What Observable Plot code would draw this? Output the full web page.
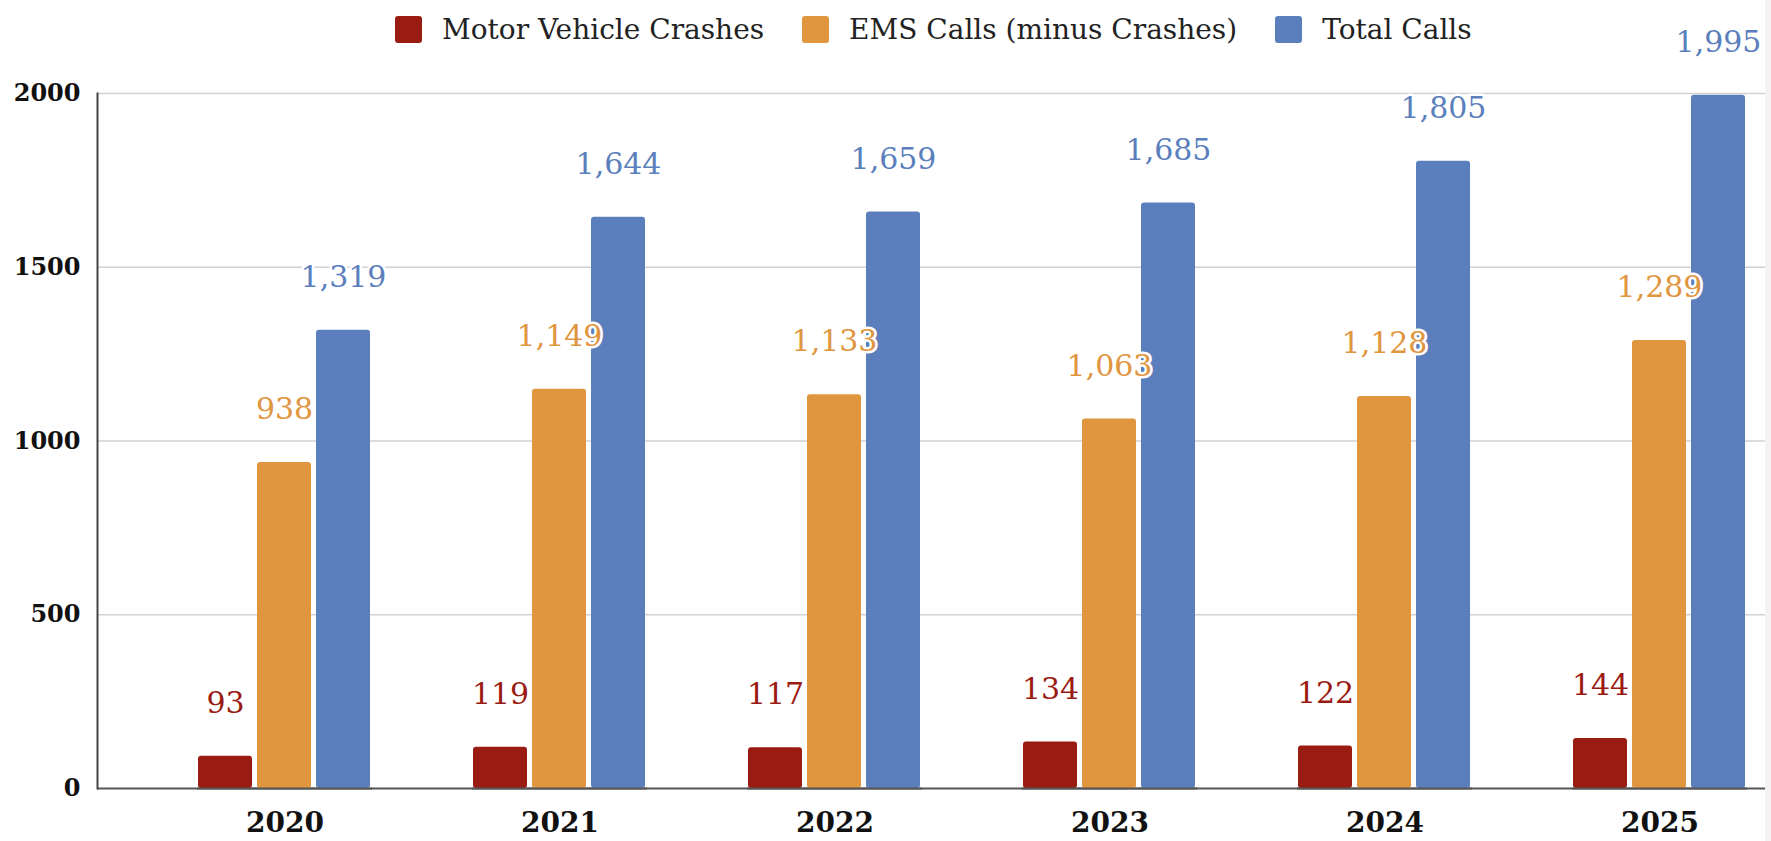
<!DOCTYPE html>
<html>
<head>
<meta charset="utf-8">
<script src="https://cdn.jsdelivr.net/npm/d3@7"></script>
<script src="https://cdn.jsdelivr.net/npm/@observablehq/plot@0.6"></script>
<style>
  html, body { margin: 0; padding: 0; background: #ffffff; overflow: hidden; }
  #wrap { position: relative; width: 1771px; height: 841px; font-family: "DejaVu Serif", serif; }
  #wrap svg { display: block; position: absolute; left: 0; top: 0; }
  #legend { position: absolute; left: 395px; top: 16px; display: flex; align-items: center; height: 27px; }
  .item { display: flex; align-items: center; margin-right: 38px; }
  .swatch { width: 27px; height: 27px; border-radius: 3px; margin-right: 20px; }
  .lab { font-size: 28px; color: #222; line-height: 27px; white-space: nowrap; }
  #strip { position: absolute; right: 0; top: 0; width: 6px; height: 841px; background: #f4f2f2; }
</style>
</head>
<body>
<div id="wrap">
  <div id="legend"></div>
  <div id="strip"></div>
</div>
<script>
const years = ["2020", "2021", "2022", "2023", "2024", "2025"];
const series = ["Motor Vehicle Crashes", "EMS Calls (minus Crashes)", "Total Calls"];
const crashes = [93, 119, 117, 134, 122, 144];
const emsMinusCrashes = [938, 1149, 1133, 1063, 1128, 1289];
const totalCalls = [1319, 1644, 1659, 1685, 1805, 1995];
const colors = ["#9a1b12", "#e0953f", "#5b7fbc"];
const yTicks = [0, 500, 1000, 1500, 2000];
const yGrid = [500, 1000, 1500, 2000];

const seriesValues = [crashes, emsMinusCrashes, totalCalls];
const data = [];
years.forEach((yr, i) => {
  series.forEach((s, j) => data.push({year: yr, series: s, value: seriesValues[j][i]}));
});

const fmt = d3.format(",");

const common = {
  width: 1771,
  height: 841,
  marginTop: 93,
  marginBottom: 53,
  marginLeft: 97,
  marginRight: 6,
  style: {fontFamily: "DejaVu Serif, serif", background: "transparent", overflow: "visible"},
  y: {domain: [0, 2000]}
};

// Background layer: grid, baseline, left axis line, y tick labels
const back = Plot.plot({
  ...common,
  marks: [
    Plot.ruleY(yGrid, {stroke: "#d2d2d2", strokeWidth: 1.5}),
    Plot.ruleY([0], {stroke: "#555555", strokeWidth: 2}),
    Plot.frame({anchor: "left", stroke: "#444444", strokeWidth: 2}),
    Plot.axisY({ticks: yTicks, tickSize: 0, tickPadding: 17, fontSize: 24, fontWeight: "bold", fill: "#111", label: null, tickFormat: d => String(d)})
  ]
});

// Foreground layer: grouped bars, value labels, year labels
const front = Plot.plot({
  ...common,
  fx: {domain: years, range: [195, 1748], paddingInner: 0.365, paddingOuter: 0, label: null},
  x: {domain: series, paddingInner: 0.083, paddingOuter: 0, axis: null},
  y: {domain: [0, 2000], axis: null},
  color: {domain: series, range: colors},
  marks: [
    Plot.barY(data, {fx: "year", x: "series", y: "value", fill: "series", rx: 3}),
    Plot.ruleY([0], {stroke: "#555555", strokeWidth: 2}),
    Plot.text(data, {
      fx: "year", x: "series", y: "value",
      text: d => fmt(d.value),
      fill: "series",
      dy: -53,
      lineAnchor: "middle",
      fontSize: 30,
      stroke: "white",
      strokeWidth: 5,
      paintOrder: "stroke"
    }),
    Plot.axisFx({anchor: "bottom", tickSize: 0, tickPadding: 24, fontSize: 28, fontWeight: "bold", fill: "#111", label: null})
  ]
});

const wrap = document.getElementById("wrap");
const legendEl = document.getElementById("legend");
wrap.insertBefore(back, legendEl);
wrap.insertBefore(front, legendEl);

series.forEach((s, j) => {
  const item = document.createElement("div");
  item.className = "item";
  const sw = document.createElement("div");
  sw.className = "swatch";
  sw.style.background = colors[j];
  const lab = document.createElement("span");
  lab.className = "lab";
  lab.textContent = s;
  item.appendChild(sw);
  item.appendChild(lab);
  legendEl.appendChild(item);
});
</script>
</body>
</html>
